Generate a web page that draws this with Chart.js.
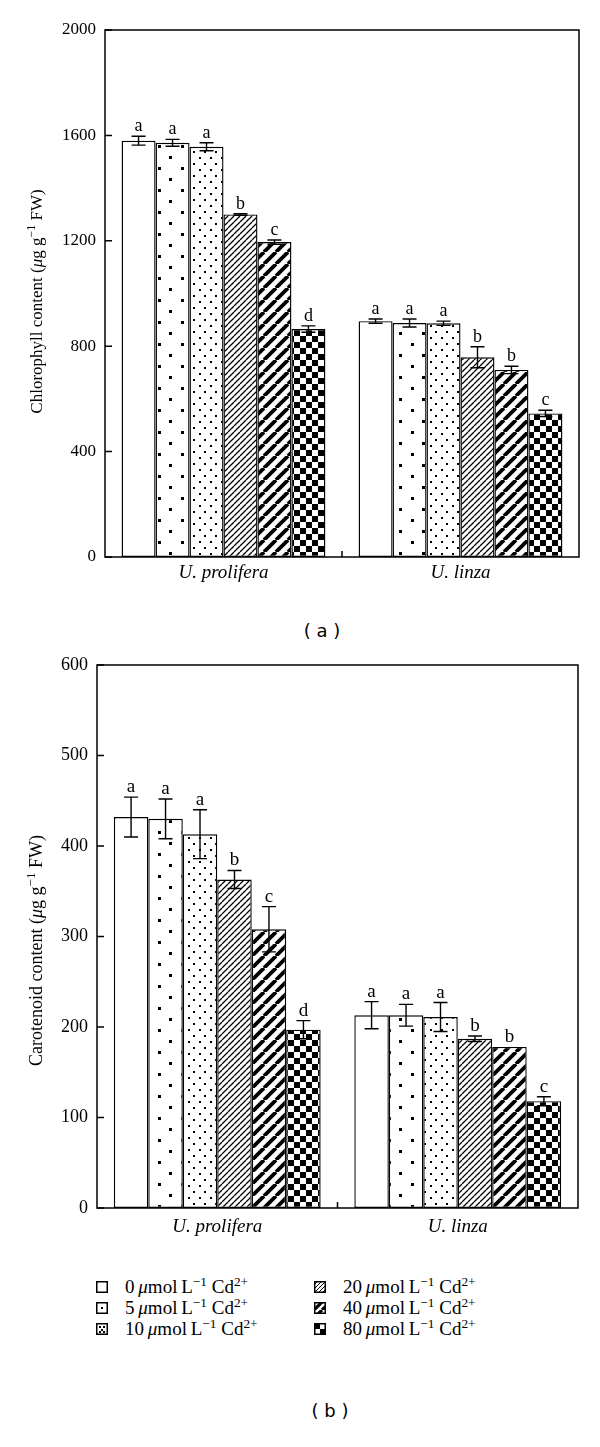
<!DOCTYPE html>
<html>
<head>
<meta charset="utf-8">
<script src="https://cdn.jsdelivr.net/npm/chart.js@4"></script>
<style>
  body { margin: 0; background: #fff; width: 600px; height: 1447px; position: relative; overflow: hidden; font-family: 'Liberation Serif', 'DejaVu Serif', serif; color: #000; }
  #c1 { position: absolute; left: 0; top: 0; }
  #c2 { position: absolute; left: 0; top: 620px; }
  .cap { position: absolute; font-family: 'DejaVu Sans', sans-serif; font-size: 18px; transform: translate(-50%, -50%); white-space: pre; }
  .leg { position: absolute; font-size: 19px; line-height: 20px; white-space: nowrap; }
  .leg canvas { position: absolute; left: -29px; top: 4px; }
  .leg sup { font-size: 0.7em; vertical-align: 0.5em; line-height: 0; }
</style>
</head>
<body>
<canvas id="c1" width="600" height="600"></canvas>
<div class="cap" style="left:322px;top:630px">( a )</div>
<canvas id="c2" width="600" height="620"></canvas>
<div id="legend"></div>
<div class="cap" style="left:330px;top:1410px">( b )</div>
<script>
// valores
const categories = ['U. prolifera', 'U. linza'];
const doseLabels = ['0', '5', '10', '20', '40', '80'];
const chlYTicks = [0, 400, 800, 1200, 1600, 2000];
const carYTicks = [0, 100, 200, 300, 400, 500, 600];

const chlProlifera = [1580, 1572, 1557, 1300, 1195, 865];
const chlProliferaErr = [17, 13, 15, 3, 8, 12];
const chlProliferaSig = ['a', 'a', 'a', 'b', 'c', 'd'];
const chlLinza = [895, 888, 887, 758, 710, 545];
const chlLinzaErr = [8, 15, 8, 40, 14, 12];
const chlLinzaSig = ['a', 'a', 'a', 'b', 'b', 'c'];

const carProlifera = [432, 430, 413, 363, 308, 197];
const carProliferaErr = [22, 22, 27, 10, 25, 10];
const carProliferaSig = ['a', 'a', 'a', 'b', 'c', 'd'];
const carLinza = [213, 213, 211, 187, 178, 118];
const carLinzaErr = [15, 12, 16, 3, 0, 5];
const carLinzaSig = ['a', 'a', 'a', 'b', 'b', 'c'];

const SERIF = "'Liberation Serif', 'DejaVu Serif', serif";

// tramas de relleno
function tile(w, h, draw) {
  const c = document.createElement('canvas');
  c.width = w; c.height = h;
  const g = c.getContext('2d');
  g.fillStyle = '#fff'; g.fillRect(0, 0, w, h);
  g.fillStyle = '#000'; g.strokeStyle = '#000';
  draw(g, w, h);
  return c;
}
function hatch(s, lw) {
  return tile(s, s, (g) => {
    g.lineWidth = lw;
    g.beginPath();
    for (const o of [-s, 0, s]) { g.moveTo(o, s); g.lineTo(o + s, 0); }
    g.stroke();
  });
}
const pctx = document.createElement('canvas').getContext('2d');
const tiles = [
  null,
  tile(23, 22, (g) => { g.fillRect(20, 13, 3, 3); g.fillRect(8, 2, 3, 3); }),
  tile(11, 12, (g) => { g.fillRect(1, 1, 2, 2); g.fillRect(6, 7, 2, 2); }),
  hatch(6, 1.3),
  hatch(12, 3.8),
  tile(12, 12, (g) => { g.fillRect(0, 0, 6, 6); g.fillRect(6, 6, 6, 6); })
];
const fills = tiles.map(t => t ? pctx.createPattern(t, 'repeat') : '#ffffff');

// texto con cursiva y superindices
function fontFor(st, size) {
  if (st === 'i') return 'italic ' + size + 'px ' + SERIF;
  if (st === 'sup') return Math.round(size * 0.7) + 'px ' + SERIF;
  return size + 'px ' + SERIF;
}
function richWidth(ctx, runs, size) {
  let w = 0;
  for (const [t, st] of runs) {
    ctx.font = fontFor(st, size);
    w += ctx.measureText(t).width;
  }
  return w;
}
function drawRich(ctx, runs, x, y, size) {
  ctx.textBaseline = 'alphabetic';
  ctx.textAlign = 'left';
  for (const [t, st] of runs) {
    ctx.font = fontFor(st, size);
    ctx.fillText(t, x, st === 'sup' ? y - size * 0.4 : y);
    x += ctx.measureText(t).width;
  }
}

function decorPlugin(cfg) {
  return {
    id: 'decor',
    afterDatasetsDraw(chart) {
      const ctx = chart.ctx;
      const y = chart.scales.y;
      ctx.save();
      ctx.strokeStyle = '#000';
      ctx.fillStyle = '#000';
      ctx.lineWidth = 1.4;
      chart.data.datasets.forEach((ds, i) => {
        chart.getDatasetMeta(i).data.forEach((bar, j) => {
          const v = ds.data[j], e = ds.errors[j];
          const yt = y.getPixelForValue(v + e);
          const yb = y.getPixelForValue(v - e);
          if (e > 0) {
            ctx.beginPath();
            ctx.moveTo(bar.x, yt); ctx.lineTo(bar.x, yb);
            ctx.moveTo(bar.x - 7, yt); ctx.lineTo(bar.x + 7, yt);
            ctx.moveTo(bar.x - 7, yb); ctx.lineTo(bar.x + 7, yb);
            ctx.stroke();
          }
          ctx.font = cfg.sigSize + 'px ' + SERIF;
          ctx.textAlign = 'center';
          ctx.textBaseline = 'alphabetic';
          ctx.fillText(ds.sig[j], bar.x, Math.min(yt, y.getPixelForValue(v)) - 5);
        });
      });
      ctx.restore();
    },
    afterDraw(chart) {
      const ctx = chart.ctx;
      const a = chart.chartArea;
      const y = chart.scales.y, x = chart.scales.x;
      ctx.save();
      ctx.strokeStyle = '#000';
      ctx.lineWidth = 1.5;
      ctx.strokeRect(a.left, a.top, a.right - a.left, a.bottom - a.top);
      ctx.beginPath();
      y.ticks.forEach(t => {
        const py = y.getPixelForValue(t.value);
        ctx.moveTo(a.left, py); ctx.lineTo(a.left + 7, py);
      });
      const mid = (x.getPixelForValue(0) + x.getPixelForValue(1)) / 2;
      ctx.moveTo(mid, a.bottom); ctx.lineTo(mid, a.bottom - 6);
      ctx.stroke();
      // titulo del eje y
      ctx.fillStyle = '#000';
      const w = richWidth(ctx, cfg.title, cfg.titleSize);
      ctx.translate(cfg.titleX, (a.top + a.bottom) / 2 + cfg.titleShift);
      ctx.rotate(-Math.PI / 2);
      drawRich(ctx, cfg.title, -w / 2, cfg.titleSize * 0.35, cfg.titleSize);
      ctx.restore();
    }
  };
}

function makeChart(id, cfg) {
  const datasets = doseLabels.map((d, i) => ({
    label: d + ' µmol L-1 Cd2+',
    data: [cfg.prolifera[i], cfg.linza[i]],
    errors: [cfg.errP[i], cfg.errL[i]],
    sig: [cfg.sigP[i], cfg.sigL[i]],
    backgroundColor: fills[i],
    borderColor: '#000',
    borderWidth: 1.4,
    borderSkipped: false,
    categoryPercentage: 0.86,
    barPercentage: 1.0
  }));
  return new Chart(document.getElementById(id), {
    type: 'bar',
    data: { labels: categories, datasets: datasets },
    options: {
      responsive: false,
      animation: false,
      layout: { padding: { top: cfg.padTop, right: cfg.padRight, left: 0, bottom: 0 } },
      plugins: { legend: { display: false }, tooltip: { enabled: false } },
      scales: {
        x: {
          grid: { display: false, drawTicks: false },
          border: { display: false },
          ticks: { color: '#000', padding: cfg.xPad, font: { family: SERIF, size: 19, style: 'italic' } },
          afterFit: (s) => { s.height = cfg.xHeight; }
        },
        y: {
          min: 0,
          max: cfg.ticks[cfg.ticks.length - 1],
          grid: { display: false, drawTicks: false },
          border: { display: false },
          ticks: {
            color: '#000', padding: 9, font: { family: SERIF, size: cfg.tickSize },
            callback: (v) => String(v)
          },
          afterBuildTicks: (s) => { s.ticks = cfg.ticks.map(v => ({ value: v })); },
          afterFit: (s) => { s.width = cfg.yWidth; }
        }
      }
    },
    plugins: [decorPlugin(cfg)]
  });
}

makeChart('c1', {
  prolifera: chlProlifera, linza: chlLinza,
  errP: chlProliferaErr, errL: chlLinzaErr,
  sigP: chlProliferaSig, sigL: chlLinzaSig,
  ticks: chlYTicks,
  padTop: 30, padRight: 21, yWidth: 105, xHeight: 43, xPad: 5,
  tickSize: 17, sigSize: 18,
  title: [['Chlorophyll content (', 'n'], ['μ', 'i'], ['g g', 'n'], ['−1', 'sup'], [' FW)', 'n']],
  titleSize: 17, titleX: 36, titleShift: 8
});

makeChart('c2', {
  prolifera: carProlifera, linza: carLinza,
  errP: carProliferaErr, errL: carLinzaErr,
  sigP: carProliferaSig, sigL: carLinzaSig,
  ticks: carYTicks,
  padTop: 45, padRight: 22, yWidth: 97, xHeight: 32, xPad: 8,
  tickSize: 18, sigSize: 19,
  title: [['Carotenoid content (', 'n'], ['μ', 'i'], ['g g', 'n'], ['−1', 'sup'], [' FW)', 'n']],
  titleSize: 18, titleX: 36, titleShift: 14
});

// leyenda
const legPos = [[125, 1277], [125, 1298], [125, 1319], [343, 1277], [343, 1298], [343, 1319]];
const legBox = document.getElementById('legend');
doseLabels.forEach((d, i) => {
  const div = document.createElement('div');
  div.className = 'leg';
  div.style.left = legPos[i][0] + 'px';
  div.style.top = legPos[i][1] + 'px';
  div.innerHTML = d + '&#8201;<i>μ</i>mol&#8201;L<sup>−1</sup> Cd<sup>2+</sup>';
  const sw = document.createElement('canvas');
  sw.width = 12; sw.height = 12;
  const g = sw.getContext('2d');
  g.fillStyle = '#fff'; g.fillRect(0, 0, 12, 12);
  g.fillStyle = '#000';
  if (i === 1) g.fillRect(5, 5, 2, 2);
  if (i === 2) { [[3, 3], [7, 3], [5, 6], [3, 8], [7, 8]].forEach(p => g.fillRect(p[0], p[1], 2, 2)); }
  if (i === 3) { g.fillStyle = pctx.createPattern(hatch(4, 1), 'repeat'); g.fillRect(0, 0, 12, 12); }
  if (i === 4) { g.fillStyle = pctx.createPattern(hatch(8, 3.2), 'repeat'); g.fillRect(0, 0, 12, 12); }
  if (i === 5) { g.fillRect(0, 0, 6, 6); g.fillRect(6, 6, 6, 6); }
  g.strokeStyle = '#000'; g.lineWidth = 1.5;
  g.strokeRect(0.75, 0.75, 10.5, 10.5);
  div.appendChild(sw);
  legBox.appendChild(div);
});
</script>
</body>
</html>
